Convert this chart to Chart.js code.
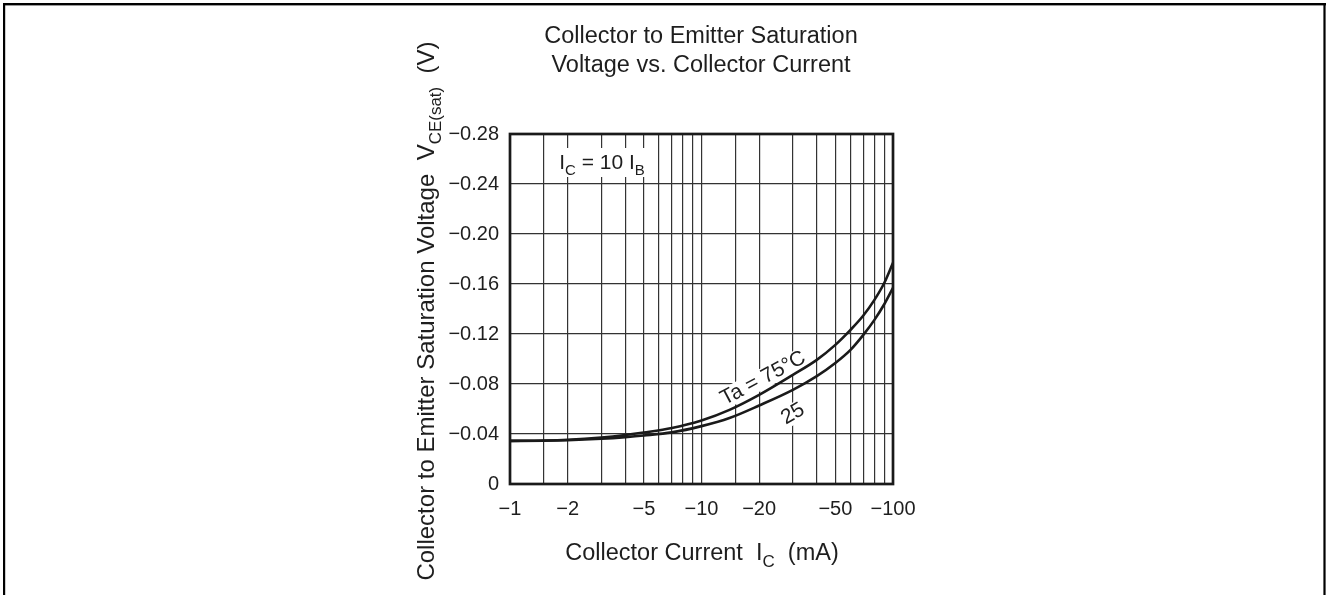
<!DOCTYPE html>
<html>
<head>
<meta charset="utf-8">
<script src="https://cdn.jsdelivr.net/npm/chart.js@4.4.0/dist/chart.umd.min.js"></script>
<style>
    html, body { margin: 0; padding: 0; background: #fff; }
    #wrap { position: relative; width: 1326px; height: 595px; }
</style>
</head>
<body>
<div id="wrap"><canvas id="vceChart"></canvas></div>
<script>
    // Collector current magnitude (mA)
    var currentMa = [1, 1.5, 2, 3, 4, 5, 7, 10, 14, 20, 30, 40, 50, 60, 70, 80, 90, 100];
    // |VCE(sat)| (V) for Ta = 75°C and Ta = 25°C
    var vce75 = [0.0345, 0.0348, 0.0354, 0.0372, 0.0392, 0.0412, 0.0448, 0.0508, 0.0593, 0.0713, 0.0873, 0.0993, 0.1113, 0.1233, 0.1348, 0.1473, 0.1608, 0.1770];
    var vce25 = [0.0345, 0.0346, 0.0350, 0.0362, 0.0375, 0.0388, 0.0413, 0.0463, 0.0528, 0.0628, 0.0753, 0.0863, 0.0968, 0.1073, 0.1193, 0.1313, 0.1438, 0.1570];

    // axis ticks
    var xGridValues = [1, 1.5, 2, 3, 4, 5, 6, 7, 8, 9, 10, 15, 20, 30, 40, 50, 60, 70, 80, 90, 100];
    var xLabelValues = [1, 2, 5, 10, 20, 50, 100];
    var xTickLabels = ['\u22121', '\u22122', '\u22125', '\u221210', '\u221220', '\u221250', '\u2212100'];
    var yTickLabels = ['0', '\u22120.04', '\u22120.08', '\u22120.12', '\u22120.16', '\u22120.20', '\u22120.24', '\u22120.28'];

    var FONT = '"Liberation Sans", Arial, Helvetica, sans-serif';
    var INK = '#1e1e1e';

    // draws text runs with subscripts, parts = [{t:'I'}, {t:'C', sub:true}]
    function drawRich(ctx, parts, x, y, size, align) {
        var subSize = Math.round(size * 0.72);
        var total = 0;
        parts.forEach(function (p) {
            ctx.font = (p.sub ? subSize : size) + 'px ' + FONT;
            p.w = ctx.measureText(p.t).width;
            total += p.w;
        });
        var cx = align === 'center' ? x - total / 2 : (align === 'right' ? x - total : x);
        ctx.textAlign = 'left';
        ctx.textBaseline = 'alphabetic';
        parts.forEach(function (p) {
            ctx.font = (p.sub ? subSize : size) + 'px ' + FONT;
            ctx.fillText(p.t, cx, p.sub ? y + size * 0.28 : y);
            cx += p.w;
        });
    }

    function rotatedLabel(ctx, text, x, y, deg, boxW, boxH) {
        ctx.save();
        ctx.translate(x, y);
        ctx.rotate(-deg * Math.PI / 180);
        ctx.font = '21px ' + FONT;
        ctx.textAlign = 'center';
        ctx.textBaseline = 'middle';
        ctx.fillStyle = '#fff';
        ctx.fillRect(-boxW / 2, -boxH / 2, boxW, boxH);
        ctx.fillStyle = INK;
        ctx.fillText(text, 0, 0);
        ctx.restore();
    }

    var decorPlugin = {
        id: 'decor',
        beforeDatasetsDraw: function (chart) {
            // in-plot labels sit on white patches over the grid, under the curves
            var ctx = chart.ctx;
            var xs = chart.scales.x, ys = chart.scales.y;
            ctx.save();
            ctx.fillStyle = '#fff';
            ctx.fillRect(554, 148, 95, 29);
            ctx.fillStyle = INK;
            drawRich(ctx, [{t: 'I'}, {t: 'C', sub: true}, {t: ' = 10 I'}, {t: 'B', sub: true}], 602, 169, 21, 'center');

            rotatedLabel(ctx, 'Ta = 75\u00b0C', xs.getPixelForValue(21), ys.getPixelForValue(0.0845), 28, 100, 20);
            rotatedLabel(ctx, '25', xs.getPixelForValue(30), ys.getPixelForValue(0.056), 30, 26, 20);
            ctx.restore();
        },
        afterDraw: function (chart) {
            var ctx = chart.ctx;
            var a = chart.chartArea;
            ctx.save();

            // page frame (top, left, right)
            ctx.fillStyle = '#000';
            ctx.fillRect(3, 3, 1323, 2.4);
            ctx.fillRect(3, 3, 2.2, 592);
            ctx.fillRect(1323.4, 3, 2.2, 592);

            // thick plot border
            ctx.strokeStyle = '#1a1a1a';
            ctx.lineWidth = 2.7;
            ctx.strokeRect(a.left, a.top, a.right - a.left, a.bottom - a.top);

            ctx.fillStyle = INK;
            // title
            ctx.font = '23.5px ' + FONT;
            ctx.textAlign = 'center';
            ctx.textBaseline = 'middle';
            ctx.fillText('Collector to Emitter Saturation', 701, 37);
            ctx.fillText('Voltage vs. Collector Current', 701, 66);

            // x title
            drawRich(ctx, [{t: 'Collector Current  I'}, {t: 'C', sub: true}, {t: '  (mA)'}], 702, 560, 23.5, 'center');

            // y title (rotated)
            ctx.save();
            ctx.translate(434, 311);
            ctx.rotate(-Math.PI / 2);
            drawRich(ctx, [{t: 'Collector to Emitter Saturation Voltage  V'}, {t: 'CE(sat)', sub: true}, {t: '  (V)'}], 0, 0, 24, 'center');
            ctx.restore();

            ctx.restore();
        }
    };

    function toPoints(ys) {
        return currentMa.map(function (x, i) { return {x: x, y: ys[i]}; });
    }

    var ctx = document.getElementById('vceChart').getContext('2d');
    new Chart(ctx, {
        type: 'line',
        data: {
            datasets: [{
                label: 'Ta = 75°C',
                data: toPoints(vce75),
                borderColor: '#1a1a1a',
                borderWidth: 2.6,
                pointRadius: 0,
                fill: false,
                cubicInterpolationMode: 'monotone'
            }, {
                label: 'Ta = 25°C',
                data: toPoints(vce25),
                borderColor: '#1a1a1a',
                borderWidth: 2.6,
                pointRadius: 0,
                fill: false,
                cubicInterpolationMode: 'monotone'
            }]
        },
        options: {
            responsive: true,
            maintainAspectRatio: false,
            animation: false,
            layout: { padding: { left: 0, right: 433, top: 134, bottom: 0 } },
            plugins: {
                legend: { display: false },
                tooltip: { enabled: false }
            },
            scales: {
                x: {
                    type: 'logarithmic',
                    min: 1,
                    max: 100,
                    afterBuildTicks: function (s) {
                        s.ticks = xGridValues.map(function (v) { return {value: v}; });
                    },
                    afterFit: function (s) { s.height = 111; },
                    grid: { color: '#333', lineWidth: 1.2, drawTicks: false },
                    border: { display: false },
                    ticks: {
                        autoSkip: false,
                        maxRotation: 0,
                        padding: 13,
                        color: INK,
                        font: { family: FONT, size: 20 },
                        callback: function (value) {
                            var i = xLabelValues.indexOf(value);
                            return i >= 0 ? xTickLabels[i] : '';
                        }
                    }
                },
                y: {
                    type: 'linear',
                    min: 0,
                    max: 0.28,
                    afterFit: function (s) { s.width = 510; },
                    grid: { color: '#333', lineWidth: 1.2, drawTicks: false },
                    border: { display: false },
                    ticks: {
                        stepSize: 0.02,
                        padding: 11,
                        color: INK,
                        font: { family: FONT, size: 20 },
                        callback: function (value) {
                            var k = Math.round(value / 0.02);
                            return k % 2 === 0 ? yTickLabels[k / 2] : '';
                        }
                    }
                }
            }
        },
        plugins: [decorPlugin]
    });
</script>
</body>
</html>
